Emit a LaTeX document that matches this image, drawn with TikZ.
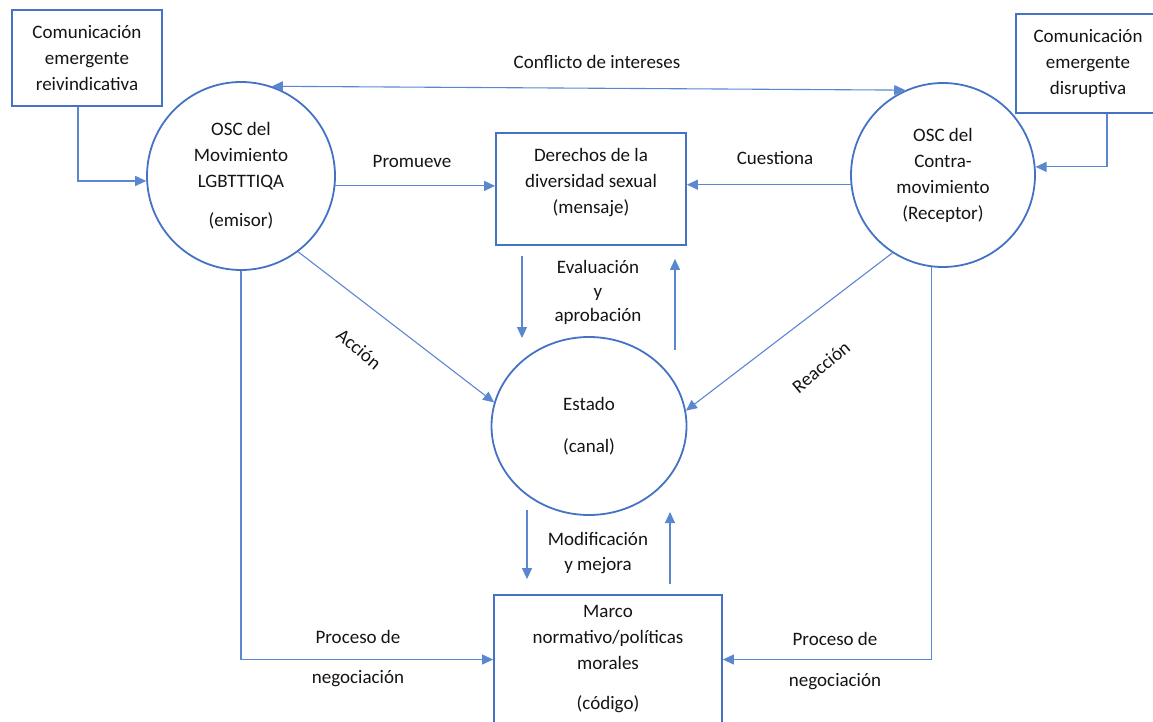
\documentclass[tikz,border=0pt]{standalone}
\usepackage{fontspec}
\setmainfont{Carlito}
\usetikzlibrary{arrows.meta,shapes.geometric,calc}
\definecolor{bord}{HTML}{4472C4}
\definecolor{lnk}{HTML}{5B87D1}
\definecolor{ink}{HTML}{141414}
\begin{document}
\begin{tikzpicture}[x=1pt,y=-1pt,
  every node/.style={font=\fontsize{19}{26}\selectfont, text=ink},
  boxnode/.style={draw=bord, line width=1.8pt, rectangle, inner sep=0pt, align=center},
  circnode/.style={draw=bord, line width=1.8pt, circle, inner sep=0pt, align=center},
  ellnode/.style={draw=bord, line width=1.8pt, ellipse, inner sep=0pt, align=center},
  txt/.style={align=center, inner sep=0pt},
  conn/.style={draw=lnk, line width=1.1pt, -{Triangle[length=11pt,width=10pt]}},
  dconn/.style={draw=lnk, line width=1.1pt, {Triangle[length=11pt,width=10pt]}-{Triangle[length=11pt,width=10pt]}},
]
\useasboundingbox (0,0) rectangle (1153,722);

% boxes
\node[boxnode, minimum width=150pt, minimum height=96pt] (LB) at (87,58)
  {Comunicación\\emergente\\reivindicativa};
\node[boxnode, minimum width=144pt, minimum height=99pt] (RB) at (1088,63.5)
  {Comunicación\\emergente\\disruptiva};
\node[boxnode, minimum width=190pt, minimum height=112pt] (D) at (591,189) {};
\node[txt] (Dt) at (591,183) {Derechos de la\\diversidad sexual\\(mensaje)};
\node[boxnode, minimum width=228pt, minimum height=129pt] (M) at (608,659.5) {};
\node[txt] (Mt) at (608,659) {Marco\\normativo/políticas\\morales\\[14pt](código)};

% circles
\node[circnode, minimum size=188pt] (L) at (241,176)
  {OSC del\\Movimiento\\LGBTTTIQA\\[13pt](emisor)};
\node[circnode, minimum size=184pt] (R) at (943,175)
  {OSC del\\Contra-\\movimiento\\(Receptor)};
\node[ellnode, minimum width=195pt, minimum height=178pt] (E) at (589,426)
  {Estado\\[16pt](canal)};

% labels
\node[txt] (t1) at (597,62) {Conflicto de intereses};
\node[txt] (t2) at (412,161) {Promueve};
\node[txt] (t3) at (775,158) {Cuestiona};
\node[txt, font=\fontsize{19}{24}\selectfont] (t4) at (598,292) {Evaluación\\y\\aprobación};
\node[txt, font=\fontsize{19}{25}\selectfont] (t5) at (598,553) {Modificación\\y mejora};
\node[txt, rotate=-40] (t6) at (359,349) {Acción};
\node[txt, rotate=40] (t7) at (821,367) {Reacción};
\node[txt] (t8) at (358,637) {Proceso de};
\node[txt] (t9) at (358,679) {negociación};
\node[txt] (t10) at (835,639) {Proceso de};
\node[txt] (t11) at (835,682) {negociación};

% free ends
\coordinate (e1) at (522,338);
\coordinate (e2) at (675,350);
\coordinate (m1) at (527,510);
\coordinate (m2) at (670,512);

% connectors
\draw[dconn] (L.71) -- (R.114);
\draw[conn] ([xshift=-9pt]LB.south) |- (L.183);
\draw[conn] ([xshift=19pt]RB.south) |- (R.5);
\draw[conn] (L.-6) -- (D.west |- L.-6);
\draw[conn] (R.186) -- (D.east |- R.186);
\draw[conn, shorten <=10pt] (D.south -| e1) -- (e1);
\draw[conn, shorten >=13pt] (e2) -- (e2 |- D.south);
\draw[conn, shorten >=15pt] (m1) -- (m1 |- M.north);
\draw[conn, shorten <=10pt] (m2 |- M.north) -- (m2);
\draw[conn] (L.-53) -- (E.166);
\draw[conn] (R.-123) -- (E.9);
\draw[conn] (L.south) |- (M.west);
\draw[conn] (R.263) |- (M.east);
\end{tikzpicture}
\end{document}
